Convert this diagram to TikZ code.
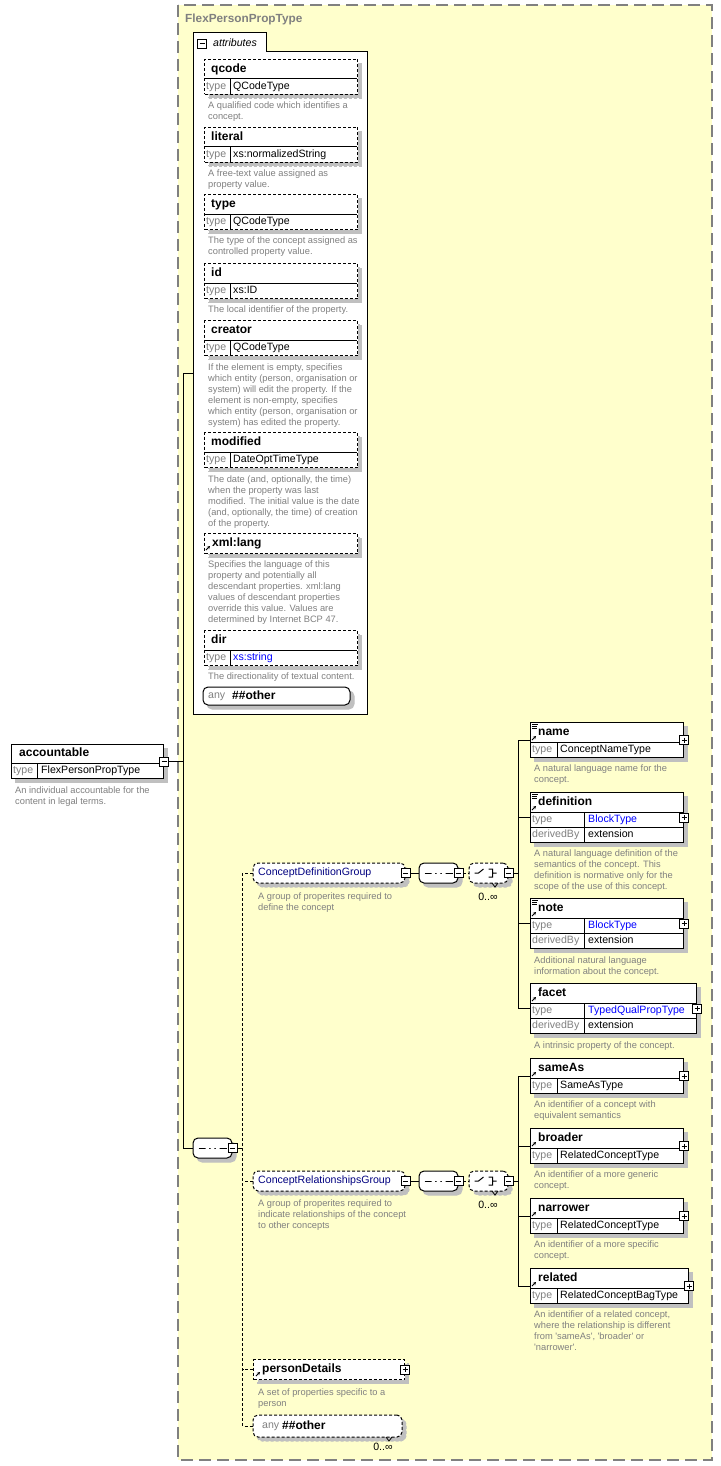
\documentclass[tikz,border=0pt]{standalone}
\usepackage{fontspec}
\setmainfont{Liberation Sans}
\usepackage{tikz}
\usetikzlibrary{arrows.meta,shadows}
\definecolor{schemaYellow}{RGB}{255,255,204}
\definecolor{frameGray}{RGB}{128,128,128}
\definecolor{descGray}{RGB}{128,128,128}
\definecolor{shadowGray}{RGB}{192,192,192}
\definecolor{typeBlue}{RGB}{0,0,255}
\definecolor{groupNavy}{RGB}{0,0,128}
\newcommand\descsize{\fontsize{9.3}{11}\selectfont}
\newcommand\rowsize{\fontsize{10.6}{12}\selectfont}
\newcommand\namesize{\fontsize{12}{14}\selectfont\bfseries}
\tikzset{
  boxshadow/.style={drop shadow={shadow xshift=4pt,shadow yshift=-4pt,fill=shadowGray,draw=shadowGray,opacity=1}},
  elembox/.style={draw,fill=white,line width=1pt,inner sep=0pt,anchor=north west,boxshadow},
  optbox/.style={elembox,dash pattern=on 3pt off 2pt},
  rowline/.style={line width=1pt},
  optline/.style={line width=1pt,dash pattern=on 3pt off 2pt},
  ename/.style={anchor=west,inner sep=0pt,font=\namesize,text height=8.6pt,text depth=2.5pt},
  tlabel/.style={anchor=west,inner sep=0pt,font=\rowsize,text=descGray,text height=7.7pt,text depth=2.2pt},
  tvalue/.style={tlabel,text=black},
  tlink/.style={tlabel,text=typeBlue},
  grpname/.style={tlabel,text=groupNavy},
  desc/.style={anchor=north west,inner sep=0pt,align=left,font=\descsize,text=descGray},
  occurs/.style={inner sep=0pt,font=\rowsize},
  signbox/.style={draw,fill=white,line width=0.8pt,minimum size=9pt,inner sep=0pt},
  minusbox/.style={signbox,path picture={\draw[line width=0.8pt] ([xshift=2pt]path picture bounding box.west) -- ([xshift=-2pt]path picture bounding box.east);}},
  plusbox/.style={signbox,path picture={\draw[line width=0.8pt] ([xshift=2pt]path picture bounding box.west) -- ([xshift=-2pt]path picture bounding box.east) ([yshift=-2pt]path picture bounding box.north) -- ([yshift=2pt]path picture bounding box.south);}},
  chambox/.style={rectangle,rounded corners=5pt,draw,fill=white,line width=1pt,inner sep=0pt,minimum height=20pt,boxshadow},
  groupbox/.style={chambox,dash pattern=on 3pt off 2pt,minimum width=152pt},
  seqbox/.style={chambox,minimum width=39pt,path picture={
    \draw[line width=1pt,sharp corners,shift={(path picture bounding box.center)}] (-14,0) -- (14,0);
    \fill[sharp corners,shift={(path picture bounding box.center)}] (-7,-1.8) rectangle (-3.4,1.8) (-1.8,-1.8) rectangle (1.8,1.8) (3.4,-1.8) rectangle (7,1.8);}},
  choicebox/.style={chambox,dash pattern=on 3pt off 2pt,minimum width=39pt,path picture={
    \draw[line width=1pt,solid,sharp corners,shift={(path picture bounding box.center)}] (-14,0) -- (-10,0) -- (-5,-4) (0,-4) -- (4,-4) -- (4,4) -- (0,4) (4,0) -- (8,0);
    \fill[sharp corners,shift={(path picture bounding box.center)}] (-3.5,-5.2) rectangle (-1,-2.8) (-3.5,-1.2) rectangle (-1,1.2) (-3.5,2.8) rectangle (-1,5.2);}},
  refmark/.style={line width=1pt,-{Stealth[length=3pt,width=3.2pt]}},
  listmark/.style={line width=0.7pt},
}
\begin{document}
\begin{tikzpicture}[x=1pt,y=-1pt]
  \fill[white] (0,0) rectangle (720,1466);
  \useasboundingbox (0,0) rectangle (720,1466);
  % Complex type frame
  \fill[schemaYellow] (178,5) rectangle (712,1460);
  \draw[frameGray,line width=1.2pt,dash pattern=on 12pt off 6pt] (178,5) rectangle (712,1460);
  \node[anchor=west,inner sep=0pt,font=\fontsize{11.8}{14}\selectfont\bfseries,text=frameGray] (ctitle) at (185,19) {FlexPersonPropType};

  % Root element
  \node[elembox,minimum width=152pt,minimum height=34pt] (acc) at (11,744) {};
  \draw[rowline] (11,763) -- (163,763) (37,763) -- (37,778);
  \node[ename] (acc-n) at (19,753.5) {accountable};
  \node[tlabel] (acc-t) at (13,770.5) {type};
  \node[tvalue] (acc-v) at (41,770.5) {FlexPersonPropType};
  \node[minusbox] (acc-m) at (acc.east) {};
  \node[desc] (acc-d) at (15,786.5) {An individual accountable for the\\content in legal terms.};

  % Attributes
  \draw[line width=1pt,fill=white] (193,33) -- (266,33) -- (266,52) -- (367,52) -- (367,714) -- (193,714) -- cycle;
  \node[minusbox] (att-m) at (202,43.5) {};
  \node[anchor=west,inner sep=0pt,font=\rowsize\itshape] (att-n) at (213,43) {attributes};
  \coordinate (att-in) at (193,373);

  \node[optbox,minimum width=153pt,minimum height=35pt] (qcode) at (204,59) {};
  \draw[rowline] (204,79) -- (357,79) (230,79) -- (230,94);
  \node[ename] (qcode-n) at (211,69) {qcode};
  \node[tlabel] (qcode-t) at (206,86.5) {type};
  \node[tvalue] (qcode-v) at (233,86.5) {QCodeType};
  \node[desc] (qcode-d) at (208,101.5) {A qualified code which identifies a\\concept.};

  \node[optbox,minimum width=153pt,minimum height=35pt] (literal) at (204,127) {};
  \draw[rowline] (204,147) -- (357,147) (230,147) -- (230,162);
  \node[ename] (literal-n) at (211,137) {literal};
  \node[tlabel] (literal-t) at (206,154.5) {type};
  \node[tvalue] (literal-v) at (233,154.5) {xs:normalizedString};
  \node[desc] (literal-d) at (208,169.5) {A free-text value assigned as\\property value.};

  \node[optbox,minimum width=153pt,minimum height=35pt] (atype) at (204,194) {};
  \draw[rowline] (204,214) -- (357,214) (230,214) -- (230,229);
  \node[ename] (atype-n) at (211,204) {type};
  \node[tlabel] (atype-t) at (206,221.5) {type};
  \node[tvalue] (atype-v) at (233,221.5) {QCodeType};
  \node[desc] (atype-d) at (208,236.5) {The type of the concept assigned as\\controlled property value.};

  \node[optbox,minimum width=153pt,minimum height=35pt] (aid) at (204,263) {};
  \draw[rowline] (204,283) -- (357,283) (230,283) -- (230,298);
  \node[ename] (aid-n) at (211,273) {id};
  \node[tlabel] (aid-t) at (206,290.5) {type};
  \node[tvalue] (aid-v) at (233,290.5) {xs:ID};
  \node[desc] (aid-d) at (208,305.5) {The local identifier of the property.};

  \node[optbox,minimum width=153pt,minimum height=35pt] (creator) at (204,320) {};
  \draw[rowline] (204,340) -- (357,340) (230,340) -- (230,355);
  \node[ename] (creator-n) at (211,330) {creator};
  \node[tlabel] (creator-t) at (206,347.5) {type};
  \node[tvalue] (creator-v) at (233,347.5) {QCodeType};
  \node[desc] (creator-d) at (208,363.5) {If the element is empty, specifies\\which entity (person, organisation or\\system) will edit the property. If the\\element is non-empty, specifies\\which entity (person, organisation or\\system) has edited the property.};

  \node[optbox,minimum width=153pt,minimum height=35pt] (modified) at (204,432) {};
  \draw[rowline] (204,452) -- (357,452) (230,452) -- (230,467);
  \node[ename] (modified-n) at (211,442) {modified};
  \node[tlabel] (modified-t) at (206,459.5) {type};
  \node[tvalue] (modified-v) at (233,459.5) {DateOptTimeType};
  \node[desc] (modified-d) at (208,475.5) {The date (and, optionally, the time)\\when the property was last\\modified. The initial value is the date\\(and, optionally, the time) of creation\\of the property.};

  \node[optbox,minimum width=153pt,minimum height=20pt] (xmllang) at (204,533) {};
  \node[ename] (xmllang-n) at (212,543) {xml:lang};
  \draw[refmark] (206,550) -- ++(4,-4);
  \node[desc] (xmllang-d) at (208,560.5) {Specifies the language of this\\property and potentially all\\descendant properties. xml:lang\\values of descendant properties\\override this value. Values are\\determined by Internet BCP 47.};

  \node[optbox,minimum width=153pt,minimum height=35pt] (adir) at (204,630) {};
  \draw[rowline] (204,650) -- (357,650) (230,650) -- (230,665);
  \node[ename] (adir-n) at (211,640) {dir};
  \node[tlabel] (adir-t) at (206,657.5) {type};
  \node[tlink] (adir-v) at (233,657.5) {xs:string};
  \node[desc] (adir-d) at (208,672.5) {The directionality of textual content.};

  \node[chambox,minimum width=147pt,minimum height=18pt] (att-any) at (276.5,696) {};
  \node[tlabel] (att-any-k) at (208,696) {any};
  \node[ename] (att-any-n) at (232,696) {\#\#other};

  % Content model
  \node[seqbox] (mainseq) at (212.5,1148) {};
  \node[minusbox] (mainseq-m) at (mainseq.east) {};
  \coordinate (main-bus) at ([xshift=-10pt]att-in);
  \draw[rowline] (att-in) -- (main-bus) |- (mainseq.west);
  \draw[rowline] (acc-m.east) -- (acc-m.east -| main-bus);

  % ConceptDefinitionGroup
  \node[groupbox] (cdg) at (329,873) {};
  \node[grpname] (cdg-n) at (258,873) {ConceptDefinitionGroup};
  \node[minusbox] (cdg-m) at (cdg.east) {};
  \node[desc] (cdg-d) at (258,892.5) {A group of properites required to\\define the concept};
  \node[seqbox] (cdg-seq) at (438.5,873) {};
  \node[minusbox] (cdg-seq-m) at (cdg-seq.east) {};
  \node[choicebox] (cdg-ch) at (488.5,873) {};
  \draw[line width=0.8pt] (492,883) -- (495,887) -- (498,883);
  \node[minusbox] (cdg-ch-m) at (cdg-ch.east) {};
  \node[occurs] (cdg-occ) at (488,897) {0..∞};

  \node[elembox,minimum width=153pt,minimum height=35pt] (cname) at (530,722) {};
  \draw[rowline] (530,742) -- (683,742) (557,742) -- (557,757);
  \draw[listmark] (532,724.5) -- ++(6,0) (532,726.5) -- ++(5,0) (532,728.5) -- ++(5,0);
  \draw[refmark] (532,740) -- ++(4,-4);
  \node[ename] (cname-n) at (538,732) {name};
  \node[tlabel] (cname-t) at (532,749.5) {type};
  \node[tvalue] (cname-v) at (560,749.5) {ConceptNameType};
  \node[plusbox] (cname-p) at (cname.east) {};
  \node[desc] (cname-d) at (534,764.5) {A natural language name for the\\concept.};

  \node[elembox,minimum width=153pt,minimum height=50pt] (cdef) at (530,792) {};
  \draw[rowline] (530,812) -- (683,812) (530,827) -- (683,827) (584,812) -- (584,842);
  \draw[listmark] (532,794.5) -- ++(6,0) (532,796.5) -- ++(5,0) (532,798.5) -- ++(5,0);
  \draw[refmark] (532,810) -- ++(4,-4);
  \node[ename] (cdef-n) at (538,802) {definition};
  \node[tlabel] (cdef-t) at (532,819.5) {type};
  \node[tlink] (cdef-v) at (588,819.5) {BlockType};
  \node[tlabel] (cdef-dt) at (532,834.5) {derivedBy};
  \node[tvalue] (cdef-dv) at (588,834.5) {extension};
  \node[plusbox] (cdef-p) at (cdef.east) {};
  \node[desc] (cdef-d) at (534,849.5) {A natural language definition of the\\semantics of the concept. This\\definition is normative only for the\\scope of the use of this concept.};

  \node[elembox,minimum width=153pt,minimum height=50pt] (cnote) at (530,898) {};
  \draw[rowline] (530,918) -- (683,918) (530,933) -- (683,933) (584,918) -- (584,948);
  \draw[listmark] (532,900.5) -- ++(6,0) (532,902.5) -- ++(5,0) (532,904.5) -- ++(5,0);
  \draw[refmark] (532,916) -- ++(4,-4);
  \node[ename] (cnote-n) at (538,908) {note};
  \node[tlabel] (cnote-t) at (532,925.5) {type};
  \node[tlink] (cnote-v) at (588,925.5) {BlockType};
  \node[tlabel] (cnote-dt) at (532,940.5) {derivedBy};
  \node[tvalue] (cnote-dv) at (588,940.5) {extension};
  \node[plusbox] (cnote-p) at (cnote.east) {};
  \node[desc] (cnote-d) at (534,956.5) {Additional natural language\\information about the concept.};

  \node[elembox,minimum width=166pt,minimum height=50pt] (cfacet) at (530,983) {};
  \draw[rowline] (530,1003) -- (696,1003) (530,1018) -- (696,1018) (584,1003) -- (584,1033);
  \draw[refmark] (532,1001) -- ++(4,-4);
  \node[ename] (cfacet-n) at (538,993) {facet};
  \node[tlabel] (cfacet-t) at (532,1010.5) {type};
  \node[tlink] (cfacet-v) at (588,1010.5) {TypedQualPropType};
  \node[tlabel] (cfacet-dt) at (532,1025.5) {derivedBy};
  \node[tvalue] (cfacet-dv) at (588,1025.5) {extension};
  \node[plusbox] (cfacet-p) at (cfacet.east) {};
  \node[desc] (cfacet-d) at (534,1041.5) {A intrinsic property of the concept.};

  \coordinate (cdg-bus) at ([xshift=-12pt]cname.west);
  \draw[rowline] (cdg-m.east) -- (cdg-seq.west);
  \draw[optline] (cdg-seq-m.east) -- (cdg-ch.west);
  \draw[rowline] (cdg-ch-m.east) -- (cdg-ch-m.east -| cdg-bus);
  \draw[rowline] (cname.west) -- (cdg-bus) |- (cfacet.west);
  \draw[rowline] (cdef.west) -- (cdef.west -| cdg-bus);
  \draw[rowline] (cnote.west) -- (cnote.west -| cdg-bus);

  % ConceptRelationshipsGroup
  \node[groupbox] (crg) at (329,1181) {};
  \node[grpname] (crg-n) at (258,1181) {ConceptRelationshipsGroup};
  \node[minusbox] (crg-m) at (crg.east) {};
  \node[desc] (crg-d) at (258,1199.5) {A group of properites required to\\indicate relationships of the concept\\to other concepts};
  \node[seqbox] (crg-seq) at (438.5,1181) {};
  \node[minusbox] (crg-seq-m) at (crg-seq.east) {};
  \node[choicebox] (crg-ch) at (488.5,1181) {};
  \draw[line width=0.8pt] (492,1191) -- (495,1195) -- (498,1191);
  \node[minusbox] (crg-ch-m) at (crg-ch.east) {};
  \node[occurs] (crg-occ) at (488,1205) {0..∞};

  \node[elembox,minimum width=153pt,minimum height=35pt] (rsame) at (530,1058) {};
  \draw[rowline] (530,1078) -- (683,1078) (557,1078) -- (557,1093);
  \draw[refmark] (532,1076) -- ++(4,-4);
  \node[ename] (rsame-n) at (538,1068) {sameAs};
  \node[tlabel] (rsame-t) at (532,1085.5) {type};
  \node[tvalue] (rsame-v) at (560,1085.5) {SameAsType};
  \node[plusbox] (rsame-p) at (rsame.east) {};
  \node[desc] (rsame-d) at (534,1100.5) {An identifier of a concept with\\equivalent semantics};

  \node[elembox,minimum width=153pt,minimum height=35pt] (rbroad) at (530,1128) {};
  \draw[rowline] (530,1148) -- (683,1148) (557,1148) -- (557,1163);
  \draw[refmark] (532,1146) -- ++(4,-4);
  \node[ename] (rbroad-n) at (538,1138) {broader};
  \node[tlabel] (rbroad-t) at (532,1155.5) {type};
  \node[tvalue] (rbroad-v) at (560,1155.5) {RelatedConceptType};
  \node[plusbox] (rbroad-p) at (rbroad.east) {};
  \node[desc] (rbroad-d) at (534,1170.5) {An identifier of a more generic\\concept.};

  \node[elembox,minimum width=153pt,minimum height=35pt] (rnarrow) at (530,1198) {};
  \draw[rowline] (530,1218) -- (683,1218) (557,1218) -- (557,1233);
  \draw[refmark] (532,1216) -- ++(4,-4);
  \node[ename] (rnarrow-n) at (538,1208) {narrower};
  \node[tlabel] (rnarrow-t) at (532,1225.5) {type};
  \node[tvalue] (rnarrow-v) at (560,1225.5) {RelatedConceptType};
  \node[plusbox] (rnarrow-p) at (rnarrow.east) {};
  \node[desc] (rnarrow-d) at (534,1240.5) {An identifier of a more specific\\concept.};

  \node[elembox,minimum width=158pt,minimum height=35pt] (rrel) at (530,1268) {};
  \draw[rowline] (530,1288) -- (688,1288) (557,1288) -- (557,1303);
  \draw[refmark] (532,1286) -- ++(4,-4);
  \node[ename] (rrel-n) at (538,1278) {related};
  \node[tlabel] (rrel-t) at (532,1295.5) {type};
  \node[tvalue] (rrel-v) at (560,1295.5) {RelatedConceptBagType};
  \node[plusbox] (rrel-p) at (rrel.east) {};
  \node[desc] (rrel-d) at (534,1310.5) {An identifier of a related concept,\\where the relationship is different\\from \textquotesingle sameAs\textquotesingle, \textquotesingle broader\textquotesingle\ or\\\textquotesingle narrower\textquotesingle.};

  \coordinate (crg-bus) at ([xshift=-12pt]rsame.west);
  \draw[rowline] (crg-m.east) -- (crg-seq.west);
  \draw[optline] (crg-seq-m.east) -- (crg-ch.west);
  \draw[rowline] (crg-ch-m.east) -- (crg-ch-m.east -| crg-bus);
  \draw[rowline] (rsame.west) -- (crg-bus) |- (rrel.west);
  \draw[rowline] (rbroad.west) -- (rbroad.west -| crg-bus);
  \draw[rowline] (rnarrow.west) -- (rnarrow.west -| crg-bus);

  % personDetails and wildcard
  \node[optbox,minimum width=151pt,minimum height=20pt] (pdet) at (253,1359) {};
  \draw[refmark] (256,1376) -- ++(4,-4);
  \node[ename] (pdet-n) at (262,1369) {personDetails};
  \node[plusbox] (pdet-p) at (pdet.east) {};
  \node[desc] (pdet-d) at (258,1388.5) {A set of properties specific to a\\person};

  \node[chambox,dash pattern=on 3pt off 2pt,minimum width=149pt,minimum height=22pt] (anyo) at (327.5,1426) {};
  \draw[line width=0.8pt] (386,1437) -- (389,1441) -- (392,1437);
  \node[tlabel] (anyo-k) at (262,1426) {any};
  \node[ename] (anyo-n) at (282,1426) {\#\#other};
  \node[occurs] (anyo-occ) at (383,1447) {0..∞};

  \coordinate (grp-bus) at ([xshift=-10pt]cdg.west);
  \draw[rowline] (mainseq-m.east) -- (mainseq-m.east -| grp-bus);
  \draw[optline] (cdg.west) -- (grp-bus) |- (anyo.west);
  \draw[optline] (crg.west) -- (crg.west -| grp-bus);
  \draw[optline] (pdet.west) -- (pdet.west -| grp-bus);
\end{tikzpicture}
\end{document}
